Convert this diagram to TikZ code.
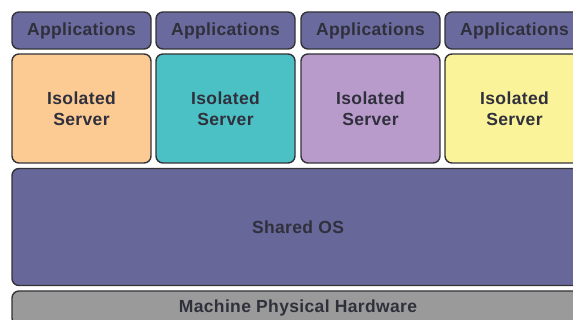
\documentclass[tikz,border=0pt]{standalone}
\usepackage{fontspec}
\setmainfont{Liberation Sans}
\newfontfamily\labfont[LetterSpace=2]{Liberation Sans}
\definecolor{appc}{HTML}{6A6A9E}
\definecolor{osc}{HTML}{67679A}
\definecolor{srvA}{HTML}{FCCB94}
\definecolor{srvB}{HTML}{4BC1C5}
\definecolor{srvC}{HTML}{B89ACB}
\definecolor{srvD}{HTML}{FAF39A}
\definecolor{hwc}{HTML}{9A9A9A}
\definecolor{edge}{HTML}{333338}
\definecolor{txt}{HTML}{30303C}
\tikzset{
  box/.style={draw=edge, line width=1.4pt, rounded corners=7pt, inner sep=0pt,
    font=\labfont\fontsize{17.5}{20.5}\selectfont\bfseries, text=txt, align=center},
  appbox/.style={box, fill=appc, minimum width=139pt, minimum height=37pt},
  srvbox/.style={box, minimum width=139pt, minimum height=109pt},
}
\begin{document}
\begin{tikzpicture}[x=1pt,y=-1pt]
\useasboundingbox (0,0) rectangle (573,320);
\clip (0,0) rectangle (573,320);
\fill[white] (0,0) rectangle (573,320);
\node[appbox] (a1) at (81.5,30.5) {Applications};
\node[appbox] (a2) at (225.5,30.5) {Applications};
\node[appbox] (a3) at (370.5,30.5) {Applications};
\node[appbox] (a4) at (514.5,30.5) {Applications};
\node[srvbox, fill=srvA] (s1) at (81.5,108.5) {Isolated\\Server};
\node[srvbox, fill=srvB] (s2) at (225.5,108.5) {Isolated\\Server};
\node[srvbox, fill=srvC] (s3) at (370.5,108.5) {Isolated\\Server};
\node[srvbox, fill=srvD] (s4) at (514.5,108.5) {Isolated\\Server};
\node[box, fill=osc, minimum width=572pt, minimum height=117pt] (os) at (298,227) {Shared OS};
\node[box, fill=hwc, minimum width=572pt, minimum height=34pt] (hw) at (298,308) {Machine Physical Hardware};
\end{tikzpicture}
\end{document}
